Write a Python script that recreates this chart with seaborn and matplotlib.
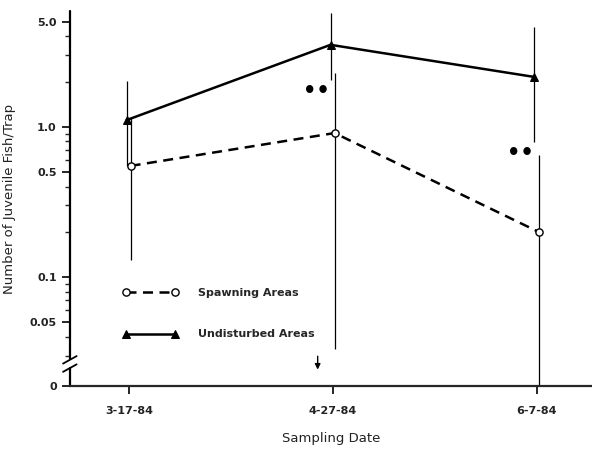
"""Juvenile fish per trap, spawning vs undisturbed areas (log scale)."""

import matplotlib

matplotlib.use("Agg")

import matplotlib.pyplot as plt
import numpy as np
import pandas as pd
import seaborn as sns
from matplotlib.ticker import FixedLocator, NullFormatter

DATES = ["3-17-84", "4-27-84", "6-7-84"]

SPAWNING_MEAN = [0.55, 0.91, 0.20]
SPAWNING_LOW = [0.13, 0.033, 0.0]
SPAWNING_HIGH = [1.15, 2.29, 0.65]

UNDISTURBED_MEAN = [1.11, 3.52, 2.15]
UNDISTURBED_LOW = [0.55, 2.06, 0.79]
UNDISTURBED_HIGH = [2.03, 5.75, 4.64]

SIGNIFICANT = [False, True, True]
SIG_Y = [None, 1.74, 0.67]

Y_TICKS = [0.05, 0.1, 0.5, 1.0, 5.0]
Y_TICK_LABELS = ["0.05", "0.1", "0.5", "1.0", "5.0"]
Y_MINOR = [0.03, 0.04, 0.06, 0.07, 0.08, 0.09, 0.2, 0.3, 0.4,
           0.6, 0.7, 0.8, 0.9, 2, 3, 4]

Y_BOTTOM = 0.0188  # stands in for zero below the axis break
Y_TOP = 5.93

sns.set_style("ticks")
plt.rcParams["font.family"] = ["DejaVu Sans"]

fig = plt.figure(figsize=(5.92, 4.5), dpi=100)
ax = fig.add_axes([0.118, 0.142, 0.882, 0.834])
ax.set_yscale("log")

x = np.arange(len(DATES))
frame = pd.DataFrame({
    "x": np.concatenate([x + 0.008, x - 0.012]),
    "value": SPAWNING_MEAN + UNDISTURBED_MEAN,
    "low": SPAWNING_LOW + UNDISTURBED_LOW,
    "high": SPAWNING_HIGH + UNDISTURBED_HIGH,
    "series": ["Spawning Areas"] * 3 + ["Undisturbed Areas"] * 3,
})

spawn = frame[frame["series"] == "Spawning Areas"]
undist = frame[frame["series"] == "Undisturbed Areas"]

for part in (spawn, undist):
    ax.vlines(part["x"], np.maximum(part["low"], Y_BOTTOM), part["high"],
              color="black", linewidth=0.9, zorder=1)

sns.lineplot(data=undist, x="x", y="value", color="black", linewidth=1.8,
             marker="^", markersize=5.5, markeredgecolor="black",
             markerfacecolor="black", label="Undisturbed Areas", ax=ax, zorder=3)
sns.lineplot(data=spawn, x="x", y="value", color="black", linewidth=1.8,
             linestyle=(0, (4, 2.6)), marker="o", markersize=5.2,
             markeredgecolor="black", markerfacecolor="white",
             markeredgewidth=1.0, label="Spawning Areas", ax=ax, zorder=3)

for i, flag in enumerate(SIGNIFICANT):
    if flag:
        ax.text(x[i] - 0.08, SIG_Y[i], "••", ha="center", va="center",
                fontsize=15, fontweight="bold", color="black")

# arrow below the April date
ax.annotate("", xy=(x[1] - 0.075, 0.0232), xytext=(x[1] - 0.075, 0.031),
            arrowprops=dict(arrowstyle="-|>", color="black", lw=1.0,
                            mutation_scale=8))

ax.set_xlim(-0.29, 2.27)
ax.set_ylim(Y_BOTTOM, Y_TOP)
ax.set_xticks(x)
ax.set_xticklabels(DATES, fontsize=8, fontweight="bold")
ax.set_yticks([Y_BOTTOM] + Y_TICKS)
ax.set_yticklabels(["0"] + Y_TICK_LABELS, fontsize=8, fontweight="bold")
ax.yaxis.set_minor_locator(FixedLocator(Y_MINOR))
ax.yaxis.set_minor_formatter(NullFormatter())
ax.tick_params(axis="both", which="major", length=6, width=1.2,
               direction="out", color="black", labelcolor="#222222")
ax.tick_params(axis="x", pad=8)
ax.tick_params(axis="y", which="minor", length=3.5, width=1.0)
ax.set_xlabel("Sampling Date", fontsize=9.5, labelpad=12, color="#222222")
ax.set_ylabel("Number of Juvenile Fish/Trap", fontsize=9.5, labelpad=10,
              color="#222222")

sns.despine(ax=ax)
ax.spines["bottom"].set_linewidth(1.6)
ax.spines["left"].set_visible(False)

# left axis line with a break near the bottom
for y0, y1 in [(0.0, 0.048), (0.072, 1.0)]:
    ax.plot([0, 0], [y0, y1], transform=ax.transAxes, color="black",
            linewidth=1.6, clip_on=False)
for dy in (0.0, 0.022):
    ax.plot([-0.013, 0.013], [0.038 + dy, 0.058 + dy], transform=ax.transAxes,
            color="black", linewidth=1.3, clip_on=False)

handles, labels = ax.get_legend_handles_labels()
order = [labels.index("Spawning Areas"), labels.index("Undisturbed Areas")]
ax.legend([handles[i] for i in order], [labels[i] for i in order],
          loc="upper left", bbox_to_anchor=(0.102, 0.262), frameon=False,
          numpoints=2, handlelength=5.0, handletextpad=1.7,
          labelspacing=2.85, borderpad=0, borderaxespad=0,
          prop={"size": 8, "weight": "bold"})

fig.savefig("out.png", dpi=100)
plt.close(fig)
